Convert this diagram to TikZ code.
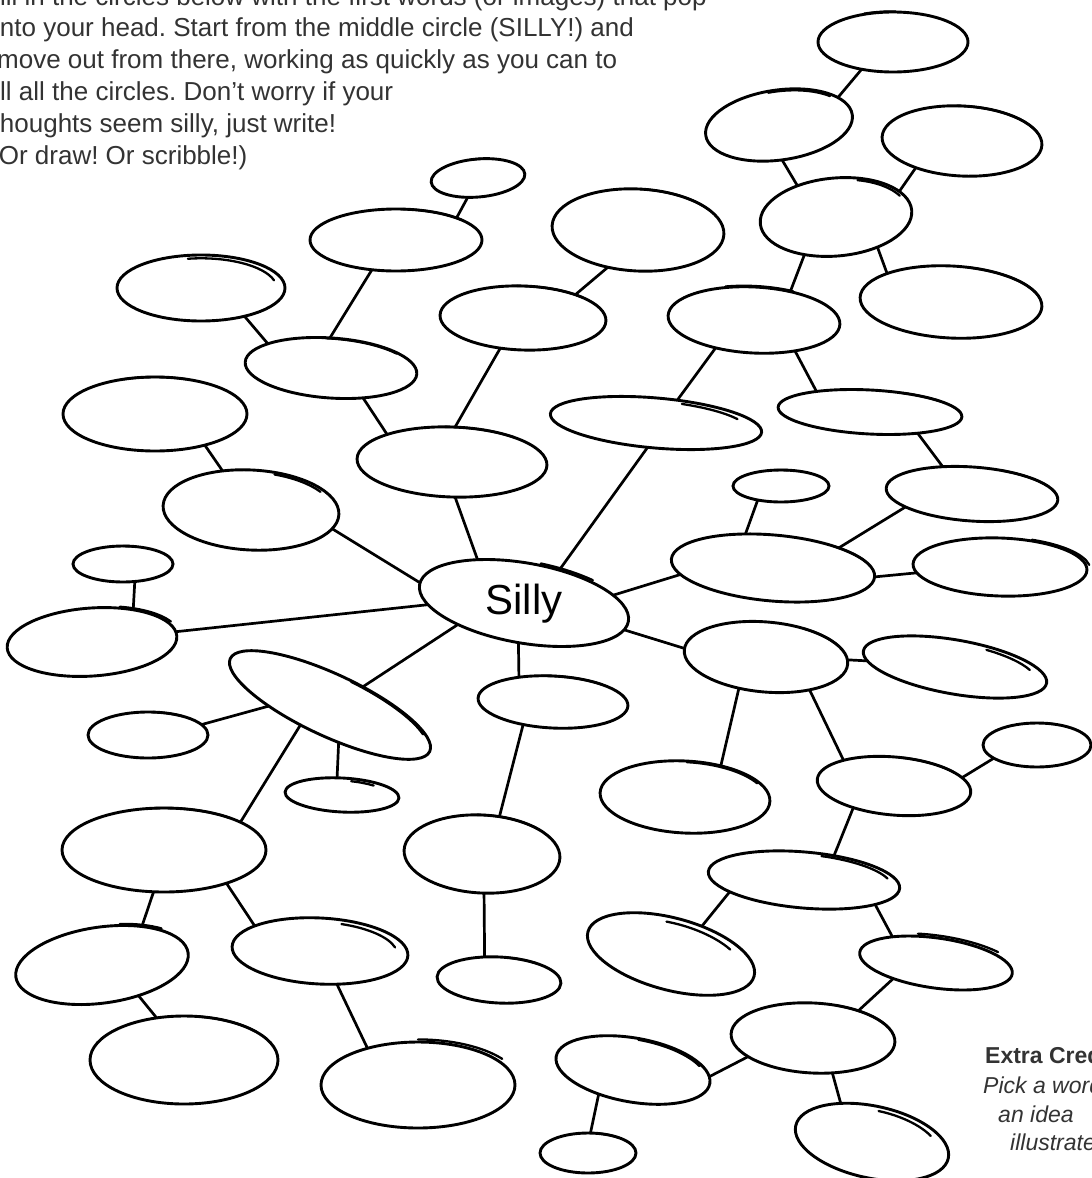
\documentclass[tikz,border=0pt]{standalone}
\usepackage{fontspec}
\setmainfont{Liberation Sans}
\usetikzlibrary{shapes.geometric}
\frenchspacing
\tikzset{
  blobst/.style={draw, ellipse, line width=2.9pt, inner sep=0pt, outer sep=0pt},
  linkst/.style={line width=2.7pt},
  flickst/.style={line width=2.3pt, line cap=round},
  toptext/.style={anchor=base west, inner sep=0pt, text=black!80, font=\fontsize{26}{32}\selectfont},
  credtext/.style={anchor=base west, inner sep=0pt, text=black!80, font=\fontsize{23}{28}\selectfont},
}
% name cx cy rx ry rot flickstart flickend flickfactor
\newcommand\blob[9]{%
  \node[blobst, minimum width=#4*2pt, minimum height=#5*2pt, rotate=#6] (#1) at (#2,#3) {};
  \begin{scope}[shift={(#2,#3)}, rotate=#6]
    \draw[flickst] (#7:#9*#4pt and #9*#5pt) arc[start angle=#7, end angle=#8, x radius=#9*#4pt, y radius=#9*#5pt];
  \end{scope}}
\newcommand\lnk[4]{\draw[linkst] (#1.#2) -- (#3.#4);}
\begin{document}
\begin{tikzpicture}[x=1pt, y=-1pt]
\useasboundingbox (0,0) rectangle (1092,1178);
\fill[white] (0,0) rectangle (1092,1178);
\clip (0,0) rectangle (1092,1178);

% instructions
\node[toptext] (t1) at (-16,5) {Fill in the circles below with the first words (or images) that pop};
\node[toptext] (t2) at (-6,36) {into your head. Start from the middle circle (SILLY!) and};
\node[toptext] (t3) at (-3,68) {move out from there, working as quickly as you can to};
\node[toptext] (t4) at (-13,100) {fill all the circles. Don't worry if your};
\node[toptext] (t5) at (-7.5,132) {thoughts seem silly, just write!};
\node[toptext] (t6) at (-10,164) {(Or draw! Or scribble!)};

\node[credtext] (c1) at (985,1063) {\bfseries Extra Credit:};
\node[credtext] (c2) at (983,1093) {\itshape Pick a word};
\node[credtext] (c3) at (998,1122) {\itshape an idea};
\node[credtext] (c4) at (1010,1150) {\itshape illustrate};

% ellipses
\blob{M}{893}{42}{75}{30}{0}{112}{88}{1.02}
\blob{N}{779}{125}{74}{35}{8}{95}{40}{0.96}
\blob{O}{962}{141}{80}{35}{-3}{95}{20}{1.0}
\blob{P}{836}{217}{76}{39}{5}{70}{25}{0.95}
\blob{Q}{951}{302}{91}{36}{-3}{80}{15}{1.0}
\blob{F}{478}{178}{47}{19}{5}{95}{75}{1.0}
\blob{E}{396}{240}{86}{31}{0}{85}{40}{1.0}
\blob{H}{638}{230}{86}{41}{-3}{90}{35}{1.0}
\blob{A}{201}{288}{84}{33}{0}{100}{15}{0.9}
\blob{I}{523}{318}{83}{32}{-2}{95}{45}{1.0}
\blob{K}{754}{320}{86}{33}{-3}{110}{65}{1.03}
\blob{B}{331}{368}{86}{30}{-4}{95}{40}{0.98}
\blob{C}{155}{414}{92}{37}{0}{110}{70}{1.0}
\blob{J}{656}{423}{106}{25}{-5}{75}{30}{0.88}
\blob{R}{870}{412}{92}{22}{-3}{70}{40}{1.0}
\blob{G}{452}{462}{95}{35}{-2}{95}{50}{1.0}
\blob{D}{251}{510}{88}{40}{-3}{75}{35}{0.95}
\blob{L}{781}{486}{48}{16}{0}{95}{80}{1.0}
\blob{S}{972}{494}{86}{27}{-4}{70}{30}{1.0}
\blob{T}{773}{568}{102}{33}{-5}{55}{25}{1.0}
\blob{U}{1000}{567}{87}{29}{-2}{70}{10}{1.04}
\blob{AA}{123}{564}{50}{18}{0}{90}{80}{1.0}
\blob{Silly}{524}{603}{106}{40}{-10}{85}{55}{1.05}
\blob{AB}{92}{642}{85}{34}{4}{70}{25}{1.04}
\blob{V}{766}{657}{82}{35}{-5}{65}{30}{1.0}
\blob{W}{955}{667}{93}{27}{-10}{70}{25}{0.88}
\blob{AC}{330}{705}{110}{31}{-25}{85}{25}{0.97}
\blob{AD}{148}{735}{60}{23}{0}{85}{55}{1.0}
\blob{AN}{553}{702}{75}{26}{-3}{100}{50}{1.0}
\blob{AE}{342}{795}{57}{17}{-3}{80}{50}{0.85}
\blob{X}{685}{797}{85}{36}{-3}{90}{30}{0.97}
\blob{Y}{894}{786}{77}{29}{-5}{85}{40}{1.0}
\blob{Z}{1037}{745}{54}{22}{0}{80}{72}{1.0}
\blob{AF}{164}{850}{102}{42}{0}{100}{50}{1.0}
\blob{AK}{482}{854}{78}{39}{-3}{95}{45}{1.0}
\blob{AO}{804}{880}{96}{28}{-5}{80}{20}{0.92}
\blob{AG}{102}{965}{87}{38}{8}{75}{45}{1.04}
\blob{AH}{320}{951}{88}{33}{-3}{75}{15}{0.88}
\blob{AP}{671}{954}{86}{36}{-15}{100}{40}{0.85}
\blob{AQ}{936}{963}{77}{25}{-8}{105}{45}{1.1}
\blob{AL}{499}{980}{62}{23}{-3}{85}{55}{1.0}
\blob{AI}{184}{1060}{94}{44}{0}{80}{40}{1.0}
\blob{AR}{813}{1038}{82}{35}{-3}{75}{30}{1.0}
\blob{AJ}{418}{1085}{97}{43}{0}{90}{35}{1.06}
\blob{AM}{633}{1070}{78}{32}{-10}{90}{30}{0.96}
\blob{AS}{872}{1142}{78}{36}{-12}{90}{35}{0.88}
\blob{AT}{588}{1153}{48}{20}{0}{80}{50}{1.0}

% centre word
\node[font=\fontsize{42}{42}\selectfont, inner sep=0pt] (silly) at (524,604) {Silly};

% connectors
\lnk{M}{-139}{N}{17}
\lnk{N}{-93}{P}{136}
\lnk{O}{-147}{P}{17}
\lnk{P}{-41}{Q}{159}
\lnk{P}{-135}{K}{41}
\lnk{K}{-141}{J}{52}
\lnk{K}{-34}{R}{162}
\lnk{R}{-21}{S}{141}
\lnk{S}{-165}{T}{22}
\lnk{L}{-149}{T}{134}
\lnk{T}{0}{U}{-174}
\lnk{T}{-171}{Silly}{15}
\lnk{J}{-104}{Silly}{53}
\lnk{H}{-126}{I}{26}
\lnk{I}{-125}{G}{87}
\lnk{G}{-83}{Silly}{147}
\lnk{F}{-123}{E}{20}
\lnk{E}{-129}{B}{96}
\lnk{A}{-33}{B}{163}
\lnk{B}{-39}{G}{159}
\lnk{C}{-32}{D}{129}
\lnk{D}{-10}{Silly}{179}
\lnk{AA}{-56}{AB}{34}
\lnk{AB}{3}{Silly}{-169}
\lnk{Silly}{-152}{AC}{54}
\lnk{AC}{-154}{AD}{11}
\lnk{AC}{-52}{AE}{109}
\lnk{AC}{-121}{AF}{20}
\lnk{Silly}{-88}{AN}{147}
\lnk{AN}{-140}{AK}{68}
\lnk{AK}{-84}{AL}{125}
\lnk{Silly}{-5}{V}{179}
\lnk{V}{3}{W}{-174}
\lnk{V}{-126}{X}{44}
\lnk{V}{-32}{Y}{158}
\lnk{Y}{12}{Z}{-163}
\lnk{Y}{-147}{AO}{44}
\lnk{AO}{-166}{AP}{57}
\lnk{AO}{-14}{AQ}{157}
\lnk{AQ}{-152}{AR}{34}
\lnk{AR}{-161}{AM}{5}
\lnk{AR}{-58}{AS}{141}
\lnk{AM}{-135}{AT}{83}
\lnk{AF}{-104}{AG}{36}
\lnk{AF}{-28}{AH}{162}
\lnk{AG}{-48}{AI}{123}
\lnk{AH}{-60}{AJ}{144}
\end{tikzpicture}
\end{document}
